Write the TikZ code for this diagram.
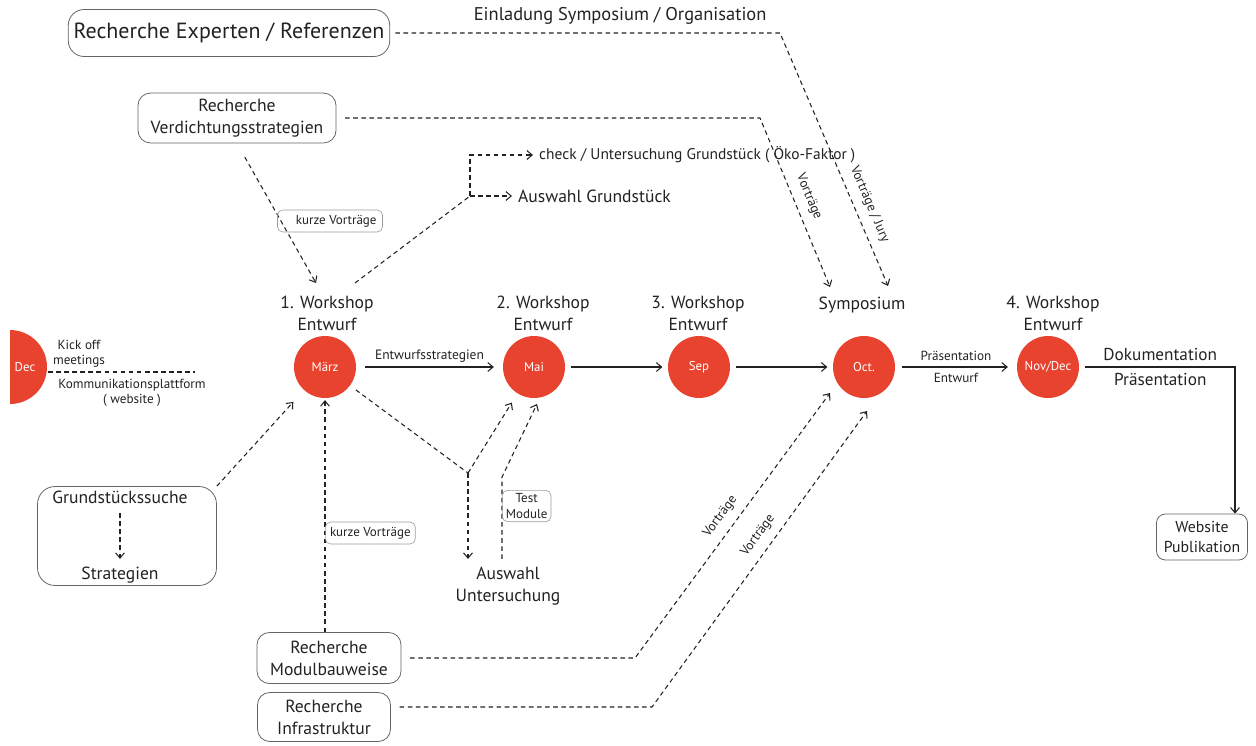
\documentclass[tikz,border=0pt]{standalone}
\usepackage{fontspec}
\setmainfont{PT Sans}
\usetikzlibrary{arrows.meta}

\definecolor{wsred}{HTML}{E8432F}
\definecolor{ink}{HTML}{222222}

\tikzset{
  month/.style={circle, fill=wsred, minimum size=1.24cm, inner sep=0pt, text=white, font=\fontsize{7.3}{8}\selectfont},
  title/.style={align=center, text=ink, font=\fontsize{10}{12.5}\selectfont},
  resbox/.style={draw=ink!70, rounded corners=7pt, align=center, text=ink, line width=0.45pt, font=\fontsize{10}{12.5}\selectfont},
  tagbox/.style={draw=ink!45, rounded corners=3pt, align=center, text=ink, line width=0.35pt, inner sep=2pt, font=\fontsize{7.4}{8.6}\selectfont},
  small/.style={text=ink, font=\fontsize{7.5}{8.5}\selectfont},
  flow/.style={-{Straight Barb[length=3pt,width=5pt]}, line width=0.6pt, draw=ink},
  link/.style={dash pattern=on 2.6pt off 2pt, line width=0.6pt, draw=ink},
  linkto/.style={link, -{Straight Barb[length=3pt,width=5pt]}},
}

\begin{document}
\begin{tikzpicture}[x=0.02cm, y=-0.02cm]
  % the frame
  \useasboundingbox (0,0) rectangle (1256,745);

  % the kick off
  \begin{scope}
    \clip (10,320) rectangle (60,410);
    \fill[wsred] (10,367) circle[radius=0.74cm];
  \end{scope}
  \node[month, fill=none] (dec) at (25,367) {Dec};
  \node[small, align=center] (kickoff) at (79,354) {Kick off\\meetings};
  \node[small, align=center] (komm) at (132,393) {Kommunikationsplattform\\( website )};
  \coordinate (kl) at (48,372);
  \coordinate (kr) at (195,372);
  \draw[link] (kl) -- (kr);

  % the workshops
  \node[month] (maerz) at (325,367) {März};
  \node[month] (mai) at (534,367) {Mai};
  \node[month] (sep) at (699,367) {Sep};
  \node[month] (oct) at (864,367) {Oct.};
  \node[month] (novdec) at (1048,367) {Nov/Dec};

  \node[title] (ws1) at (327,313) {1. Workshop\\Entwurf};
  \node[title] (ws2) at (543,313) {2. Workshop\\Entwurf};
  \node[title] (ws3) at (698,313) {3. Workshop\\Entwurf};
  \node[title] (symp) at (862,305) {Symposium};
  \node[title] (ws4) at (1053,313) {4. Workshop\\Entwurf};

  % the time line
  \draw[flow, shorten <=5pt, shorten >=5pt] (maerz) -- node[small, font=\fontsize{7.7}{8.5}\selectfont, above=-1pt] {Entwurfsstrategien} (mai);
  \draw[flow, shorten <=3pt, shorten >=3pt] (mai) -- (sep);
  \draw[flow, shorten <=3pt, shorten >=3pt] (sep) -- (oct);
  \draw[flow, shorten <=4pt, shorten >=5pt] (oct) -- node[small, above] {Präsentation}
    node[small, below] {Entwurf} (novdec);

  \node[resbox, font=\fontsize{9}{11.3}\selectfont, rounded corners=5pt, inner sep=2pt,
    minimum width=1.82cm, minimum height=0.92cm] (web) at (1202,537) {Website\\Publikation};
  \coordinate (pub) at (1235,367);
  \draw[flow, shorten <=3pt] (novdec) -- node[title, font=\fontsize{9.8}{11}\selectfont, above, pos=0.52] {Dokumentation}
    node[title, font=\fontsize{9.8}{11}\selectfont, below, pos=0.52] {Präsentation} (pub) -- (pub |- web.north);

  % the research on top
  \node[resbox, font=\fontsize{12.5}{14}\selectfont, inner xsep=3pt, minimum width=6.24cm, minimum height=0.94cm,
    rounded corners=9pt] (experten) at (229,33) {Recherche Experten / Referenzen};
  \coordinate (e1) at (780,33);
  \coordinate (sympjury) at (888,286);
  \draw[linkto, shorten <=3pt] (experten) -- node[title, font=\fontsize{10.5}{12}\selectfont, above=1pt, pos=0.59] {Einladung Symposium / Organisation} (e1)
    -- node[small, sloped, above=1.5pt, pos=0.7] {Vorträge / Jury} (sympjury);

  \node[resbox, minimum width=3.96cm, minimum height=0.98cm] (verd) at (237,118) {Recherche\\Verdichtungsstrategien};
  \coordinate (v1) at (760,118);
  \coordinate (sympvor) at (830,287);
  \draw[linkto, shorten <=5pt] (verd) -- (v1)
    -- node[small, sloped, above=1.5pt] {Vorträge} (sympvor);

  \coordinate (ws1in) at (316,283);
  \draw[linkto, shorten <=9pt] (verd.south) -- (ws1in);
  \node[tagbox, minimum width=2.1cm, minimum height=0.44cm] (kurz1) at (330,221) {\hspace{0.25cm}kurze Vorträge};

  % the site
  \coordinate (ws1out) at (355,283);
  \coordinate (fork) at (470,196);
  \node[anchor=west, small, font=\fontsize{8.8}{10}\selectfont] (check) at (533,155) {check / Untersuchung Grundstück ( Öko-Faktor )};
  \node[anchor=west, title] (grund) at (512,196) {Auswahl Grundstück};
  \draw[link] (ws1out) -- (fork);
  \draw[linkto] (fork) |- (check.west);
  \draw[linkto] (fork) -- (grund.west);

  \node[resbox, minimum width=3.58cm, minimum height=1.98cm, rounded corners=10pt] (gsbox) at (127,536) {};
  \node[title] (gs) at (120,497) {Grundstückssuche};
  \node[title] (strat) at (120,575) {Strategien};
  \draw[linkto, shorten <=2pt, shorten >=1pt] (gs) -- (strat);
  \draw[linkto, shorten >=9pt] (gsbox.north east) -- (maerz);

  % the choice
  \coordinate (junc) at (468,473);
  \coordinate (tm) at (502,477);
  \coordinate (maitest) at (537,404);
  \node[title] (ausw) at (508,586) {Auswahl\\Untersuchung};
  \draw[link, shorten <=4pt] (maerz) -- (junc);
  \draw[linkto, shorten >=6pt] (junc) -- (mai);
  \draw[linkto, shorten >=1pt] (junc) -- (junc |- ausw.north);
  \draw[linkto, shorten <=1pt] (ausw.north -| tm) -- (tm) -- (maitest);
  \node[tagbox, anchor=west, minimum height=0.58cm] (test) at (502,506) {Test\\Module};

  % the research below
  \node[resbox, minimum width=2.88cm, minimum height=1.02cm] (modul) at (329,658) {Recherche\\Modulbauweise};
  \node[resbox, minimum width=2.66cm, minimum height=0.98cm] (infra) at (324,717) {Recherche\\Infrastruktur};

  \draw[linkto, shorten >=1pt] (maerz |- modul.north) -- (maerz);
  \node[tagbox, anchor=west, minimum width=1.8cm, minimum height=0.44cm] (kurz2) at (325,533) {kurze Vorträge};

  \coordinate (m1) at (635,658);
  \coordinate (octin1) at (830,393);
  \draw[linkto, shorten <=5pt] (modul) -- (m1)
    -- node[small, sloped, above=1.5pt] {Vorträge} (octin1);
  \coordinate (i1) at (652,707);
  \coordinate (octin2) at (867,411);
  \draw[linkto, shorten <=5pt] (infra.east |- i1) -- (i1)
    -- node[small, sloped, above=1.5pt, pos=0.55] {Vorträge} (octin2);
\end{tikzpicture}
\end{document}
